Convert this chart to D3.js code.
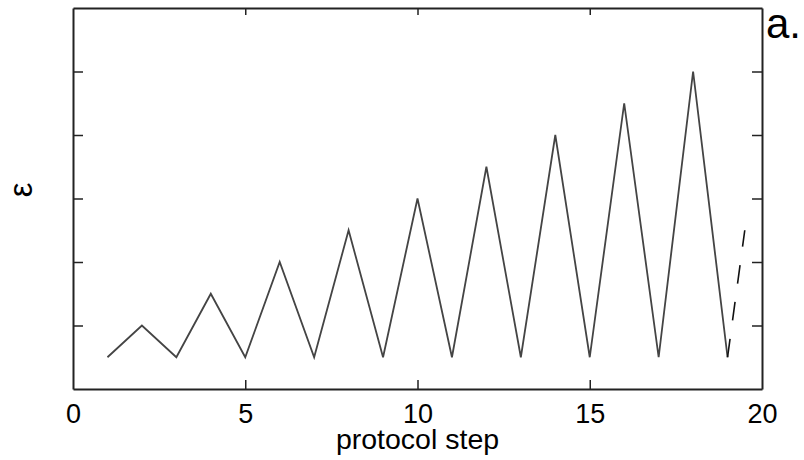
<!DOCTYPE html>
<html><head><meta charset="utf-8">
<script src="https://cdn.jsdelivr.net/npm/d3@7"></script>
<style>body{margin:0;background:#fff}</style>
</head><body>
<svg id="c" width="804" height="460"></svg>
<script>
const steps = [1,2,3,4,5,6,7,8,9,10,11,12,13,14,15,16,17,18,19];
const epsilon = [0.5,1,0.5,1.5,0.5,2,0.5,2.5,0.5,3,0.5,3.5,0.5,4,0.5,4.5,0.5,5,0.5];
const dashedX = [19, 19.5];
const dashedY = [0.5, 2.5];
const xTicks = [0,5,10,15,20];
const yTicks = [1,2,3,4,5];

const svg = d3.select("#c");
const L=73, R=762, T=8, B=389;
const x = d3.scaleLinear().domain([0,20]).range([L,R]);
const y = d3.scaleLinear().domain([0,6]).range([B,T]);
const font = "'Liberation Sans', Arial, Helvetica, sans-serif";
const ink = "#222";

// axes with inward ticks
const gB = svg.append("g").attr("transform",`translate(0,${B})`)
  .call(d3.axisBottom(x).tickValues(xTicks).tickSizeInner(-9).tickSizeOuter(0).tickPadding(20).tickFormat(d3.format("d")));
const gT = svg.append("g").attr("transform",`translate(0,${T})`)
  .call(d3.axisTop(x).tickValues([5,10,15]).tickSizeInner(-7).tickSizeOuter(0).tickFormat(""));
const gL = svg.append("g").attr("transform",`translate(${L},0)`)
  .call(d3.axisLeft(y).tickValues(yTicks).tickSizeInner(-10).tickSizeOuter(0).tickFormat(""));
const gR = svg.append("g").attr("transform",`translate(${R},0)`)
  .call(d3.axisRight(y).tickValues(yTicks).tickSizeInner(-10).tickSizeOuter(0).tickFormat(""));
[gB,gT,gL,gR].forEach(g=>{
  g.selectAll("path.domain").attr("stroke",ink).attr("stroke-width",2);
  g.selectAll(".tick line").attr("stroke",ink).attr("stroke-width",1.5);
});
gB.selectAll(".tick line").filter(d=>d===0||d===20).remove();
gB.selectAll(".tick text").attr("font-family",font).attr("font-size",27).attr("fill","#000").attr("dy","0.5em");

// line
const line = d3.line().x(d=>x(d[0])).y(d=>y(d[1]));
svg.append("path").datum(steps.map((s,i)=>[s,epsilon[i]]))
  .attr("d",line).attr("fill","none").attr("stroke","#444").attr("stroke-width",1.8).attr("stroke-linejoin","miter");
svg.append("path").datum(dashedX.map((s,i)=>[s,dashedY[i]]))
  .attr("d",line).attr("fill","none").attr("stroke","#111").attr("stroke-width",1.6).attr("stroke-dasharray","18.6,18.6");

// labels
svg.append("text").attr("x",(L+R)/2).attr("y",449).attr("text-anchor","middle")
  .attr("font-family",font).attr("font-size",28.5).text("protocol step");
svg.append("text").attr("transform","translate(32,190) rotate(-90)").attr("text-anchor","middle")
  .attr("font-family",font).attr("font-size",33).text("ε");
svg.append("text").attr("x",766).attr("y",38)
  .attr("font-family",font).attr("font-size",42).text("a.");
</script>
</body></html>
